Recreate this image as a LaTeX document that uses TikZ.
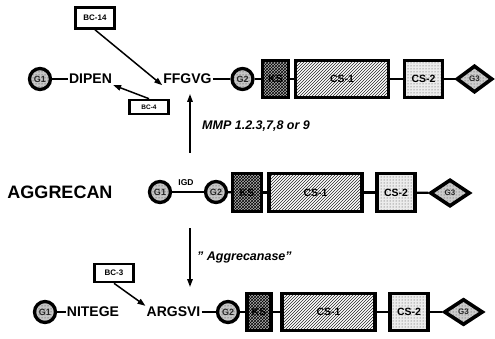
\documentclass[tikz,border=0pt]{standalone}
\usepackage{fontspec}
\setmainfont{Liberation Sans}
\usetikzlibrary{patterns,shapes.geometric,arrows.meta}
\begin{document}
\begin{tikzpicture}[x=1pt,y=-1pt,
 gc/.style={circle,draw,line width=3.3pt,minimum size=21pt,inner sep=0pt,preaction={fill=gray!45},pattern=dots,pattern color=black!80,font=\bfseries\fontsize{9}{9}\selectfont,text=black!85},
 boxbase/.style={rectangle,draw,line width=3.2pt,inner sep=0pt,font=\bfseries\fontsize{10.5}{10.5}\selectfont},
 ks/.style={boxbase,preaction={fill=gray!60},pattern=crosshatch,pattern color=black},
 csa/.style={boxbase,preaction={fill=white},pattern=north east lines,pattern color=black!85},
 csb/.style={boxbase,preaction={fill=gray!15},pattern=dots,pattern color=black!75},
 gd/.style={diamond,draw,line width=3.6pt,inner sep=0pt,preaction={fill=gray!40},pattern=dots,pattern color=black!75,font=\bfseries\fontsize{8}{8}\selectfont,text=black!85},
 seq/.style={font=\bfseries\fontsize{14}{14}\selectfont,inner sep=1pt},
 link/.style={line width=2.2pt},
 bc/.style={draw,line width=2.6pt,inner sep=0pt,font=\bfseries\fontsize{8}{8}\selectfont},
 pt/.style={line width=1.5pt,-{Triangle[length=8pt,width=5.5pt]}},
 lbl/.style={font=\bfseries\itshape\fontsize{12.5}{12.5}\selectfont,anchor=west,inner sep=0pt},
]
\useasboundingbox (0,0) rectangle (495,339);

% ---------- top row ----------
\node[gc] (g1t) at (40,79) {G1};
\node[seq] (dipen) at (90.5,79) {DIPEN};
\node[seq] (ffgvg) at (187.5,79) {FFGVG};
\node[gc] (g2t) at (242.5,79) {G2};
\node[ks,minimum width=26pt,minimum height=37pt] (kst) at (275.5,79) {KS};
\node[csa,minimum width=93pt,minimum height=37pt] (cs1t) at (342,79) {CS-1};
\node[csb,minimum width=38pt,minimum height=37pt] (cs2t) at (423.5,79) {CS-2};
\node[gd,minimum width=36pt,minimum height=27pt] (g3t) at (474.5,79) {G3};
\draw[link] (g1t) -- (dipen);
\draw[link] (ffgvg) -- (g2t);
\draw[link] (g2t) -- (kst);
\draw[link] (kst) -- (cs1t);
\draw[link] (cs1t) -- (cs2t);
\draw[link] (cs2t) -- (g3t);

\node[bc,minimum width=39pt,minimum height=21pt] (bc14) at (95,18) {BC-14};
\node[bc,minimum width=39pt,minimum height=14pt,font=\bfseries\fontsize{6.5}{6.5}\selectfont] (bc4) at (149,107) {BC-4};
\draw[pt] (bc14.south) -- (ffgvg.south west);
\draw[pt] (bc4.north) -- (dipen.south east);

% ---------- MMP arrow ----------
\coordinate (mA) at (190,153);
\coordinate (mB) at (190,94);
\draw[pt] (mA) -- (mB);
\node[lbl] (mmp) at (202,126) {MMP 1.2.3,7,8 or 9};

% ---------- middle row ----------
\node[font=\bfseries\fontsize{18}{18}\selectfont] (agg) at (60,192) {AGGRECAN};
\node[gc] (g1m) at (160,192) {G1};
\node[gc] (g2m) at (216,192) {G2};
\node[font=\bfseries\fontsize{8.5}{8.5}\selectfont,inner sep=0pt] (igd) at (186,183) {IGD};
\node[ks,minimum width=29pt,minimum height=38pt] (ksm) at (247,192.5) {KS};
\node[csa,minimum width=93pt,minimum height=38pt] (cs1m) at (315.5,192.5) {CS-1};
\node[csb,minimum width=38pt,minimum height=38pt] (cs2m) at (396,192.5) {CS-2};
\node[gd,minimum width=40pt,minimum height=27pt] (g3m) at (450,193) {G3};
\draw[link] (g1m) -- (g2m);
\draw[link] (g2m) -- (ksm);
\draw[link] (ksm) -- (cs1m);
\draw[link] (cs1m) -- (cs2m);
\draw[link] (cs2m) -- (g3m);

% ---------- aggrecanase arrow ----------
\coordinate (aA) at (190,228);
\coordinate (aB) at (190,287);
\draw[pt] (aA) -- (aB);
\node[lbl] (aggr) at (197,257) {" Aggrecanase"};

% ---------- bottom row ----------
\node[gc] (g1b) at (45,312) {G1};
\node[seq] (nitege) at (93,312) {NITEGE};
\node[seq] (argsvi) at (173.5,312) {ARGSVI};
\node[gc] (g2b) at (228,312) {G2};
\node[ks,minimum width=24pt,minimum height=37pt] (ksb) at (259,312) {KS};
\node[csa,minimum width=93pt,minimum height=37pt] (cs1b) at (328.5,312) {CS-1};
\node[csb,minimum width=38pt,minimum height=37pt] (cs2b) at (409,312) {CS-2};
\node[gd,minimum width=39pt,minimum height=26pt] (g3b) at (463.5,312) {G3};
\draw[link] (g1b) -- (nitege);
\draw[link] (argsvi) -- (g2b);
\draw[link] (g2b) -- (ksb);
\draw[link] (ksb) -- (cs1b);
\draw[link] (cs1b) -- (cs2b);
\draw[link] (cs2b) -- (g3b);

\node[bc,minimum width=39pt,minimum height=18pt] (bc3) at (114,273) {BC-3};
\draw[pt] (bc3.south) -- (argsvi.north west);
\end{tikzpicture}
\end{document}
